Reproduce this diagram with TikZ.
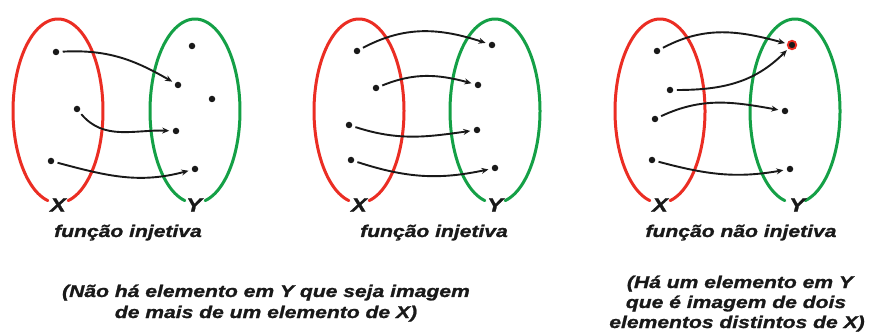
\documentclass[tikz,border=0pt]{standalone}
\usepackage{fontspec}
\newfontfamily\lbl[FakeStretch=1.24,FakeBold=1.2]{Liberation Sans}
\usetikzlibrary{arrows.meta}
\definecolor{setred}{RGB}{235,45,35}
\definecolor{setgreen}{RGB}{20,160,70}
\definecolor{ink}{RGB}{25,25,25}
\begin{document}
\begin{tikzpicture}[x=1pt,y=1pt,
  dot/.style={circle,fill=ink,inner sep=0pt,minimum size=6.5pt,outer sep=3.5pt},
  reddot/.style={circle,fill=ink,draw=setred,line width=1.8pt,inner sep=0pt,minimum size=8.5pt,outer sep=3pt},
  maparrow/.style={draw=ink,line width=1.9pt,-{Stealth[length=7pt,width=6pt]}},
  setX/.style={draw=setred,line width=3pt},
  setY/.style={draw=setgreen,line width=3pt},
  lab/.style={font=\lbl\bfseries\itshape\fontsize{19}{22}\selectfont,text=ink,inner sep=0pt},
  txt/.style={font=\lbl\bfseries\itshape\fontsize{17}{20}\selectfont,text=ink,inner sep=0pt,anchor=base}
]
\useasboundingbox (0,0) rectangle (869,-336);
\fill[white] (0,0) rectangle (869,-336);

% ---------- ellipses (open at bottom for labels) ----------
\foreach \cx/\sty in {58/setX,195/setY,359/setX,495/setY,660/setX,795/setY}{
  \draw[\sty,line cap=round] plot[domain=103:437,samples=120,smooth]
     ({\cx+45*cos(\x)},{-(111+92*sin(\x))});
}

% ---------- labels X / Y ----------
\node[lab] (X1) at (58,-205) {X};
\node[lab] (Y1) at (194,-205) {Y};
\node[lab] (X2) at (359,-205) {X};
\node[lab] (Y2) at (495,-205) {Y};
\node[lab] (X3) at (660,-205) {X};
\node[lab] (Y3) at (797,-205) {Y};

% ---------- panel 1 ----------
\node[dot] (a1) at (56,-52) {};
\node[dot] (a2) at (77,-109) {};
\node[dot] (a3) at (51,-161) {};
\node[dot] (b0) at (192,-46) {};
\node[dot] (b1) at (178,-85) {};
\node[dot] (b5) at (212,-99) {};
\node[dot] (b2) at (176,-131) {};
\node[dot] (b3) at (195,-169) {};
\draw[maparrow] (a1) to[out=3,in=150] (b1);
\draw[maparrow] (a2) to[out=-50,in=178] (b2);
\draw[maparrow] (a3) to[out=-15,in=195] (b3);

% ---------- panel 2 ----------
\node[dot] (c1) at (357,-51) {};
\node[dot] (c2) at (376,-88) {};
\node[dot] (c3) at (349,-125) {};
\node[dot] (c4) at (351,-160) {};
\node[dot] (d1) at (492,-45) {};
\node[dot] (d2) at (478,-85) {};
\node[dot] (d3) at (477,-130) {};
\node[dot] (d4) at (495,-168) {};
\draw[maparrow] (c1) to[out=28,in=162] (d1);
\draw[maparrow] (c2) to[out=22,in=165] (d2);
\draw[maparrow] (c3) to[out=-18,in=188] (d3);
\draw[maparrow] (c4) to[out=-18,in=192] (d4);

% ---------- panel 3 ----------
\node[dot] (e1) at (657,-51) {};
\node[dot] (e2) at (670,-90) {};
\node[dot] (e3) at (655,-119) {};
\node[dot] (e4) at (652,-160) {};
\node[reddot] (f1) at (792,-45) {};
\node[dot] (f2) at (785,-111) {};
\node[dot] (f3) at (790,-169) {};
\draw[maparrow] (e1) to[out=28,in=165] (f1);
\draw[maparrow] (e2) to[out=0,in=225] (f1);
\draw[maparrow] (e3) to[out=25,in=170] (f2);
\draw[maparrow] (e4) to[out=-15,in=190] (f3);

% ---------- captions ----------
\node[txt] (t1) at (128,-237) {função injetiva};
\node[txt] (t2) at (434,-237) {função injetiva};
\node[txt] (t3) at (741,-237) {função não injetiva};
\node[txt] (n1a) at (266,-297) {(Não há elemento em Y que seja imagem};
\node[txt] (n1b) at (266,-318) {de mais de um elemento de X)};
\node[txt] (n3a) at (740,-288) {(Há um elemento em Y};
\node[txt] (n3b) at (736,-308) {que é imagem de dois};
\node[txt] (n3c) at (737,-328) {elementos distintos de X)};
\end{tikzpicture}
\end{document}
